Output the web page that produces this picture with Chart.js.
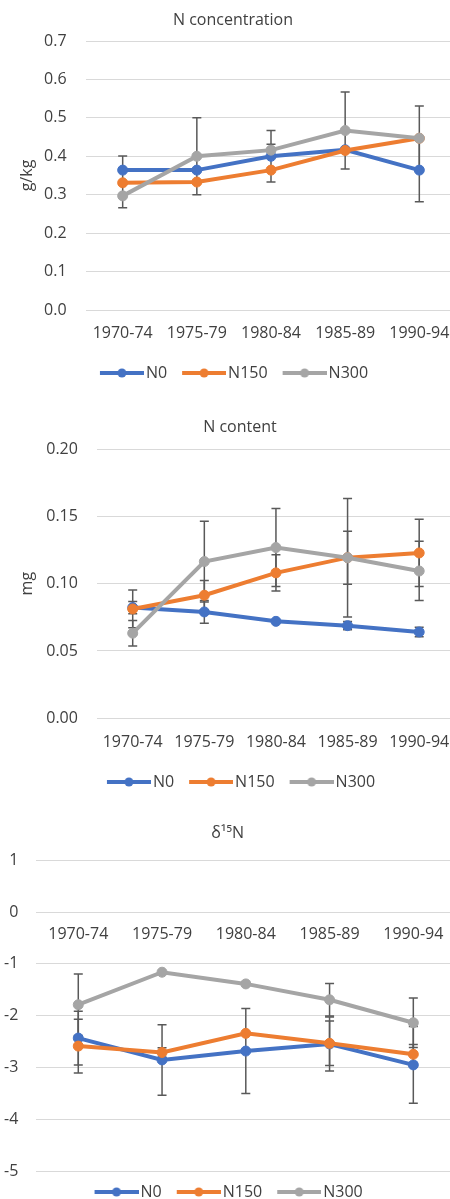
<!DOCTYPE html>
<html><head><meta charset="utf-8">
<script src="https://cdn.jsdelivr.net/npm/chart.js@4.4.1/dist/chart.umd.min.js"></script>
<style>
html,body{margin:0;padding:0;overflow:hidden;background:#fff;width:450px;height:1199px;position:relative;}
canvas{position:absolute;left:0;}
</style></head><body>
<canvas id="c1" width="470" height="391" style="top:0px"></canvas>
<canvas id="c2" width="470" height="409" style="top:391px"></canvas>
<canvas id="c3" width="470" height="410" style="top:800px"></canvas>
<script>
// ---- data ----
const CATEGORIES = ['1970-74', '1975-79', '1980-84', '1985-89', '1990-94'];
const SERIES = ['N0', 'N150', 'N300'];

// N concentration (g/kg)
const CONC_N0   = [0.364, 0.364, 0.400, 0.417, 0.364];
const CONC_N150 = [0.331, 0.333, 0.364, 0.415, 0.447];
const CONC_N300 = [0.297, 0.400, 0.416, 0.467, 0.447];
const CONC_ERR_N0   = [0.037, 0, 0.067, 0, 0.082];
const CONC_ERR_N150 = [0, 0, 0, 0, 0];
const CONC_ERR_N300 = [0.031, 0.100, 0.015, 0.100, 0.084];
const CONC_TICKS  = [0, 0.1, 0.2, 0.3, 0.4, 0.5, 0.6, 0.7];
const CONC_LABELS = ['0.0', '0.1', '0.2', '0.3', '0.4', '0.5', '0.6', '0.7'];

// N content (mg)
const CONT_N0   = [0.0822, 0.0790, 0.0720, 0.0688, 0.0641];
const CONT_N150 = [0.0812, 0.0914, 0.1080, 0.1193, 0.1228];
const CONT_N300 = [0.0632, 0.1164, 0.1268, 0.1193, 0.1094];
const CONT_ERR_N0   = [0.0045, 0.0085, 0, 0.003, 0.0035];
const CONT_ERR_N150 = [0.014, 0.011, 0.0135, 0.0197, 0.025];
const CONT_ERR_N300 = [0.0095, 0.030, 0.029, 0.044, 0.022];
const CONT_TICKS  = [0, 0.05, 0.10, 0.15, 0.20];
const CONT_LABELS = ['0.00', '0.05', '0.10', '0.15', '0.20'];

// delta 15N
const D15_N0   = [-2.433, -2.855, -2.684, -2.547, -2.951];
const D15_N150 = [-2.588, -2.711, -2.342, -2.535, -2.746];
const D15_N300 = [-1.789, -1.161, -1.387, -1.694, -2.137];
const D15_ERR_N0   = [0.52, 0.68, 0.82, 0.52, 0.74];
const D15_ERR_N150 = [0.52, 0.09, 0, 0.43, 0.19];
const D15_ERR_N300 = [0.594, 0, 0, 0.315, 0.48];
const D15_TICKS  = [-5, -4, -3, -2, -1, 0, 1];
const D15_LABELS = ['-5', '-4', '-3', '-2', '-1', '0', '1'];

const COLORS = ['#4472C4', '#ED7D31', '#A5A5A5'];
const FONT = "'Open Sans', 'Noto Sans', sans-serif";
const TEXT = '#404040';

function legendImage(color) {
  const c = document.createElement('canvas');
  c.width = 52; c.height = 12;
  const g = c.getContext('2d');
  g.strokeStyle = color; g.lineWidth = 4;
  g.beginPath(); g.moveTo(8, 6); g.lineTo(52, 6); g.stroke();
  g.fillStyle = color;
  g.beginPath(); g.arc(30, 6, 4.5, 0, Math.PI * 2); g.fill();
  return c;
}

const errorBars = {
  id: 'errorBars',
  beforeDatasetsDraw(chart) {
    const ctx = chart.ctx, ys = chart.scales.y;
    ctx.save();
    ctx.strokeStyle = '#595959';
    ctx.lineWidth = 1.5;
    chart.data.datasets.forEach((ds, i) => {
      if (!ds.errors) return;
      const meta = chart.getDatasetMeta(i);
      meta.data.forEach((pt, j) => {
        const e = ds.errors[j];
        if (!e) return;
        const v = ds.data[j];
        const x = pt.x;
        const y1 = ys.getPixelForValue(v + e), y2 = ys.getPixelForValue(v - e);
        ctx.beginPath();
        ctx.moveTo(x, y1); ctx.lineTo(x, y2);
        ctx.moveTo(x - 4.5, y1); ctx.lineTo(x + 4.5, y1);
        ctx.moveTo(x - 4.5, y2); ctx.lineTo(x + 4.5, y2);
        ctx.stroke();
      });
    });
    ctx.restore();
  }
};

function makeChart(id, cfg) {
  const datasets = cfg.series.map((d, i) => ({
    label: SERIES[i],
    data: d,
    errors: cfg.errors[i],
    borderColor: COLORS[i],
    backgroundColor: COLORS[i],
    pointBackgroundColor: COLORS[i],
    pointBorderColor: COLORS[i],
    pointBorderWidth: 1,
    pointRadius: 5,
    pointHoverRadius: 5,
    borderWidth: 4,
    tension: 0,
    fill: false,
    order: 3 - i
  }));
  const font = { family: FONT, size: 16, weight: 'normal' };
  return new Chart(document.getElementById(id), {
    type: 'line',
    data: { labels: CATEGORIES, datasets },
    plugins: [errorBars],
    options: {
      responsive: false,
      animation: false,
      devicePixelRatio: 1,
      layout: { padding: { left: cfg.padL, right: cfg.padR, top: 0, bottom: 0 } },
      plugins: {
        title: {
          display: true, text: cfg.title, color: TEXT, font,
          padding: { top: cfg.titleTop, bottom: cfg.titleBottom }
        },
        legend: {
          position: 'bottom',
          labels: {
            usePointStyle: true,
            pointStyleWidth: 40,
            padding: 13,
            color: TEXT,
            font,
            sort: (a, b) => a.datasetIndex - b.datasetIndex,
            generateLabels(chart) {
              const items = Chart.defaults.plugins.legend.labels.generateLabels(chart);
              items.forEach(it => { it.pointStyle = legendImage(COLORS[it.datasetIndex]); });
              return items;
            }
          }
        },
        tooltip: { enabled: false }
      },
      scales: {
        x: {
          type: 'category',
          offset: true,
          position: cfg.xPosition,
          grid: { display: false, drawTicks: false },
          border: { display: false },
          ticks: { color: TEXT, font, padding: cfg.xPad, maxRotation: 0, autoSkip: false },
          afterFit(s) { s.height = cfg.xHeight; }
        },
        y: {
          min: cfg.yTicks[0],
          max: cfg.yTicks[cfg.yTicks.length - 1],
          grid: { color: '#d9d9d9', lineWidth: 1, drawTicks: false },
          border: { display: false },
          title: {
            display: !!cfg.yTitle, text: cfg.yTitle || '', color: TEXT, font,
            padding: { top: cfg.yTitlePad || 0, bottom: 0 }
          },
          ticks: {
            color: TEXT, font, padding: cfg.yPad,
            callback: (v, i) => cfg.yLabels[i]
          },
          afterBuildTicks(s) { s.ticks = cfg.yTicks.map(v => ({ value: v })); },
          afterFit(s) { s.width = cfg.yWidth; }
        }
      }
    }
  });
}

makeChart('c1', {
  title: 'N concentration', yTitle: 'g/kg',
  series: [CONC_N0, CONC_N150, CONC_N300],
  errors: [CONC_ERR_N0, CONC_ERR_N150, CONC_ERR_N300],
  yTicks: CONC_TICKS, yLabels: CONC_LABELS,
  padL: 9.6, padR: 13.6, yWidth: 76, yTitlePad: 7.8, yPad: 19,
  titleTop: 10.4, titleBottom: 11.4,
  xPosition: 'bottom', xHeight: 42, xPad: 13.4
});

makeChart('c2', {
  title: 'N content', yTitle: 'mg',
  series: [CONT_N0, CONT_N150, CONT_N300],
  errors: [CONT_ERR_N0, CONT_ERR_N150, CONT_ERR_N300],
  yTicks: CONT_TICKS, yLabels: CONT_LABELS,
  padL: 25, padR: 15, yWidth: 71.9, yTitlePad: -7.1, yPad: 19,
  titleTop: 26.4, titleBottom: 12.4,
  xPosition: 'bottom', xHeight: 42.7, xPad: 14.1
});

makeChart('c3', {
  title: 'δ¹⁵N', yTitle: '',
  series: [D15_N0, D15_N150, D15_N300],
  errors: [D15_ERR_N0, D15_ERR_N150, D15_ERR_N300],
  yTicks: D15_TICKS, yLabels: D15_LABELS,
  padL: 0, padR: 14.8, yWidth: 36.4, yPad: 18,
  titleTop: 23.4, titleBottom: 17.7,
  xPosition: { y: 0 }, xHeight: 18, xPad: 13
});
</script>
</body></html>
